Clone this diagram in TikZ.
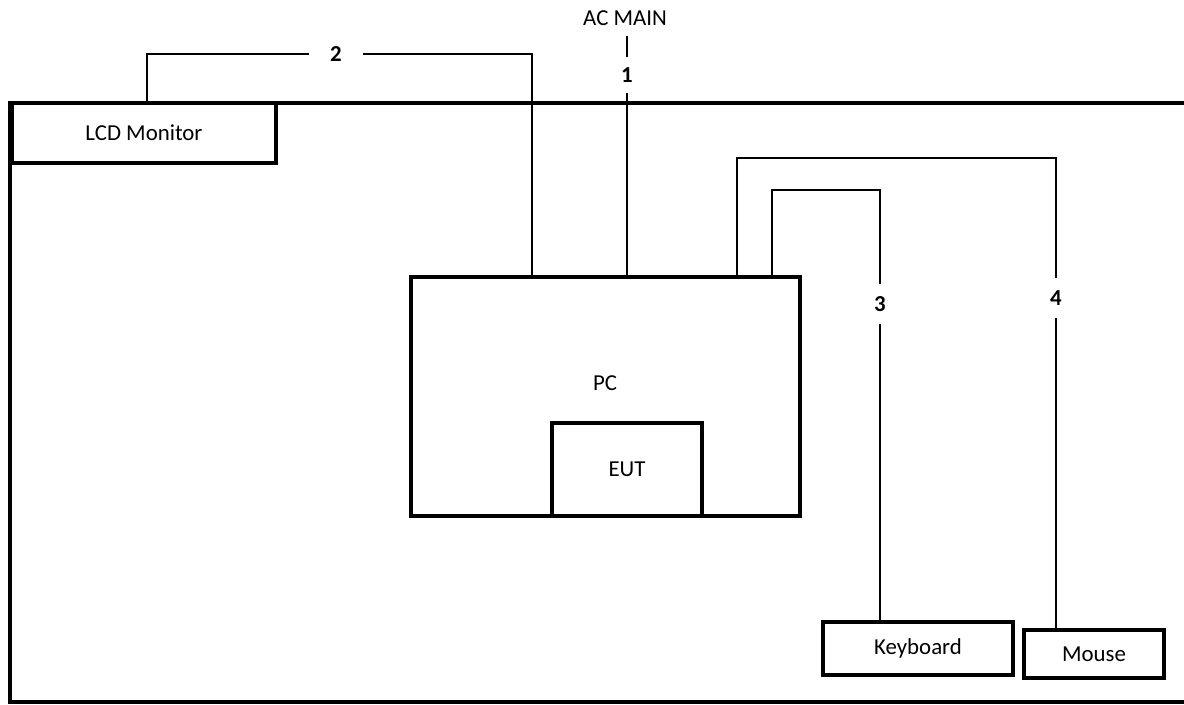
\documentclass[tikz,border=0pt]{standalone}
\usepackage{fontspec}
\setmainfont{Carlito}
\begin{document}
\begin{tikzpicture}[x=0.02cm,y=-0.02cm,
  box/.style={draw=black,line width=2pt,inner sep=0pt,font=\fontsize{13}{15}\selectfont},
  cable/.style={draw=black,line width=1.3pt},
  num/.style={font=\fontsize{13}{15}\selectfont\bfseries,inner xsep=2pt,inner ysep=6pt},
  txt/.style={font=\fontsize{13}{15}\selectfont,inner sep=0pt}]
\useasboundingbox (0,0) rectangle (1184,704);
% table outline (open on the right)
\draw[line width=2pt] (1184,103) -- (10,103) -- (10,702) -- (1184,702);
% equipment
\node[box,minimum width=5.28cm,minimum height=1.2cm] (lcd) at (144,133) {LCD Monitor};
\node[box,minimum width=7.78cm,minimum height=4.78cm] (pc) at (605.5,396.5) {};
\node[txt] (pclabel) at (605,383) {PC};
\node[box,minimum width=3.0cm,minimum height=1.86cm] (eut) at (627,469.5) {EUT};
\node[box,minimum width=3.8cm,minimum height=1.06cm] (kb) at (918,648.5) {Keyboard};
\node[box,minimum width=2.8cm,minimum height=0.96cm] (mouse) at (1094,654) {Mouse};
% labels
\node[txt] (ac) at (625,18) {AC MAIN};
\node[num] (n1) at (627,75) {1};
\node[num,inner xsep=12pt,inner ysep=2pt] (n2) at (336,54) {2};
\node[num,inner ysep=7pt] (n3) at (880,304) {3};
\node[num,inner ysep=7pt] (n4) at (1056,298) {4};
% helper coordinates
\coordinate (x2a) at (147,0);
\coordinate (x2b) at (532,0);
\coordinate (x3) at (772,0);
\coordinate (x4) at (737,0);
\coordinate (c3) at (880,190);
\coordinate (c4) at (1056,158);
% cable 1 (AC main)
\draw[cable] ([yshift=-0.2cm]ac.south -| n1) -- (n1.north);
\draw[cable] (n1.south) -- (pc.north -| n1);
% cable 2 (monitor)
\draw[cable] (lcd.north -| x2a) |- (n2.west);
\draw[cable] (n2.east) -| (pc.north -| x2b);
% cable 3 (keyboard)
\draw[cable] (pc.north -| x3) |- (c3) -- (n3.north);
\draw[cable] (n3.south) -- (kb.north -| n3);
% cable 4 (mouse)
\draw[cable] (pc.north -| x4) |- (c4) -- (n4.north);
\draw[cable] (n4.south) -- (mouse.north -| n4);
\end{tikzpicture}
\end{document}
